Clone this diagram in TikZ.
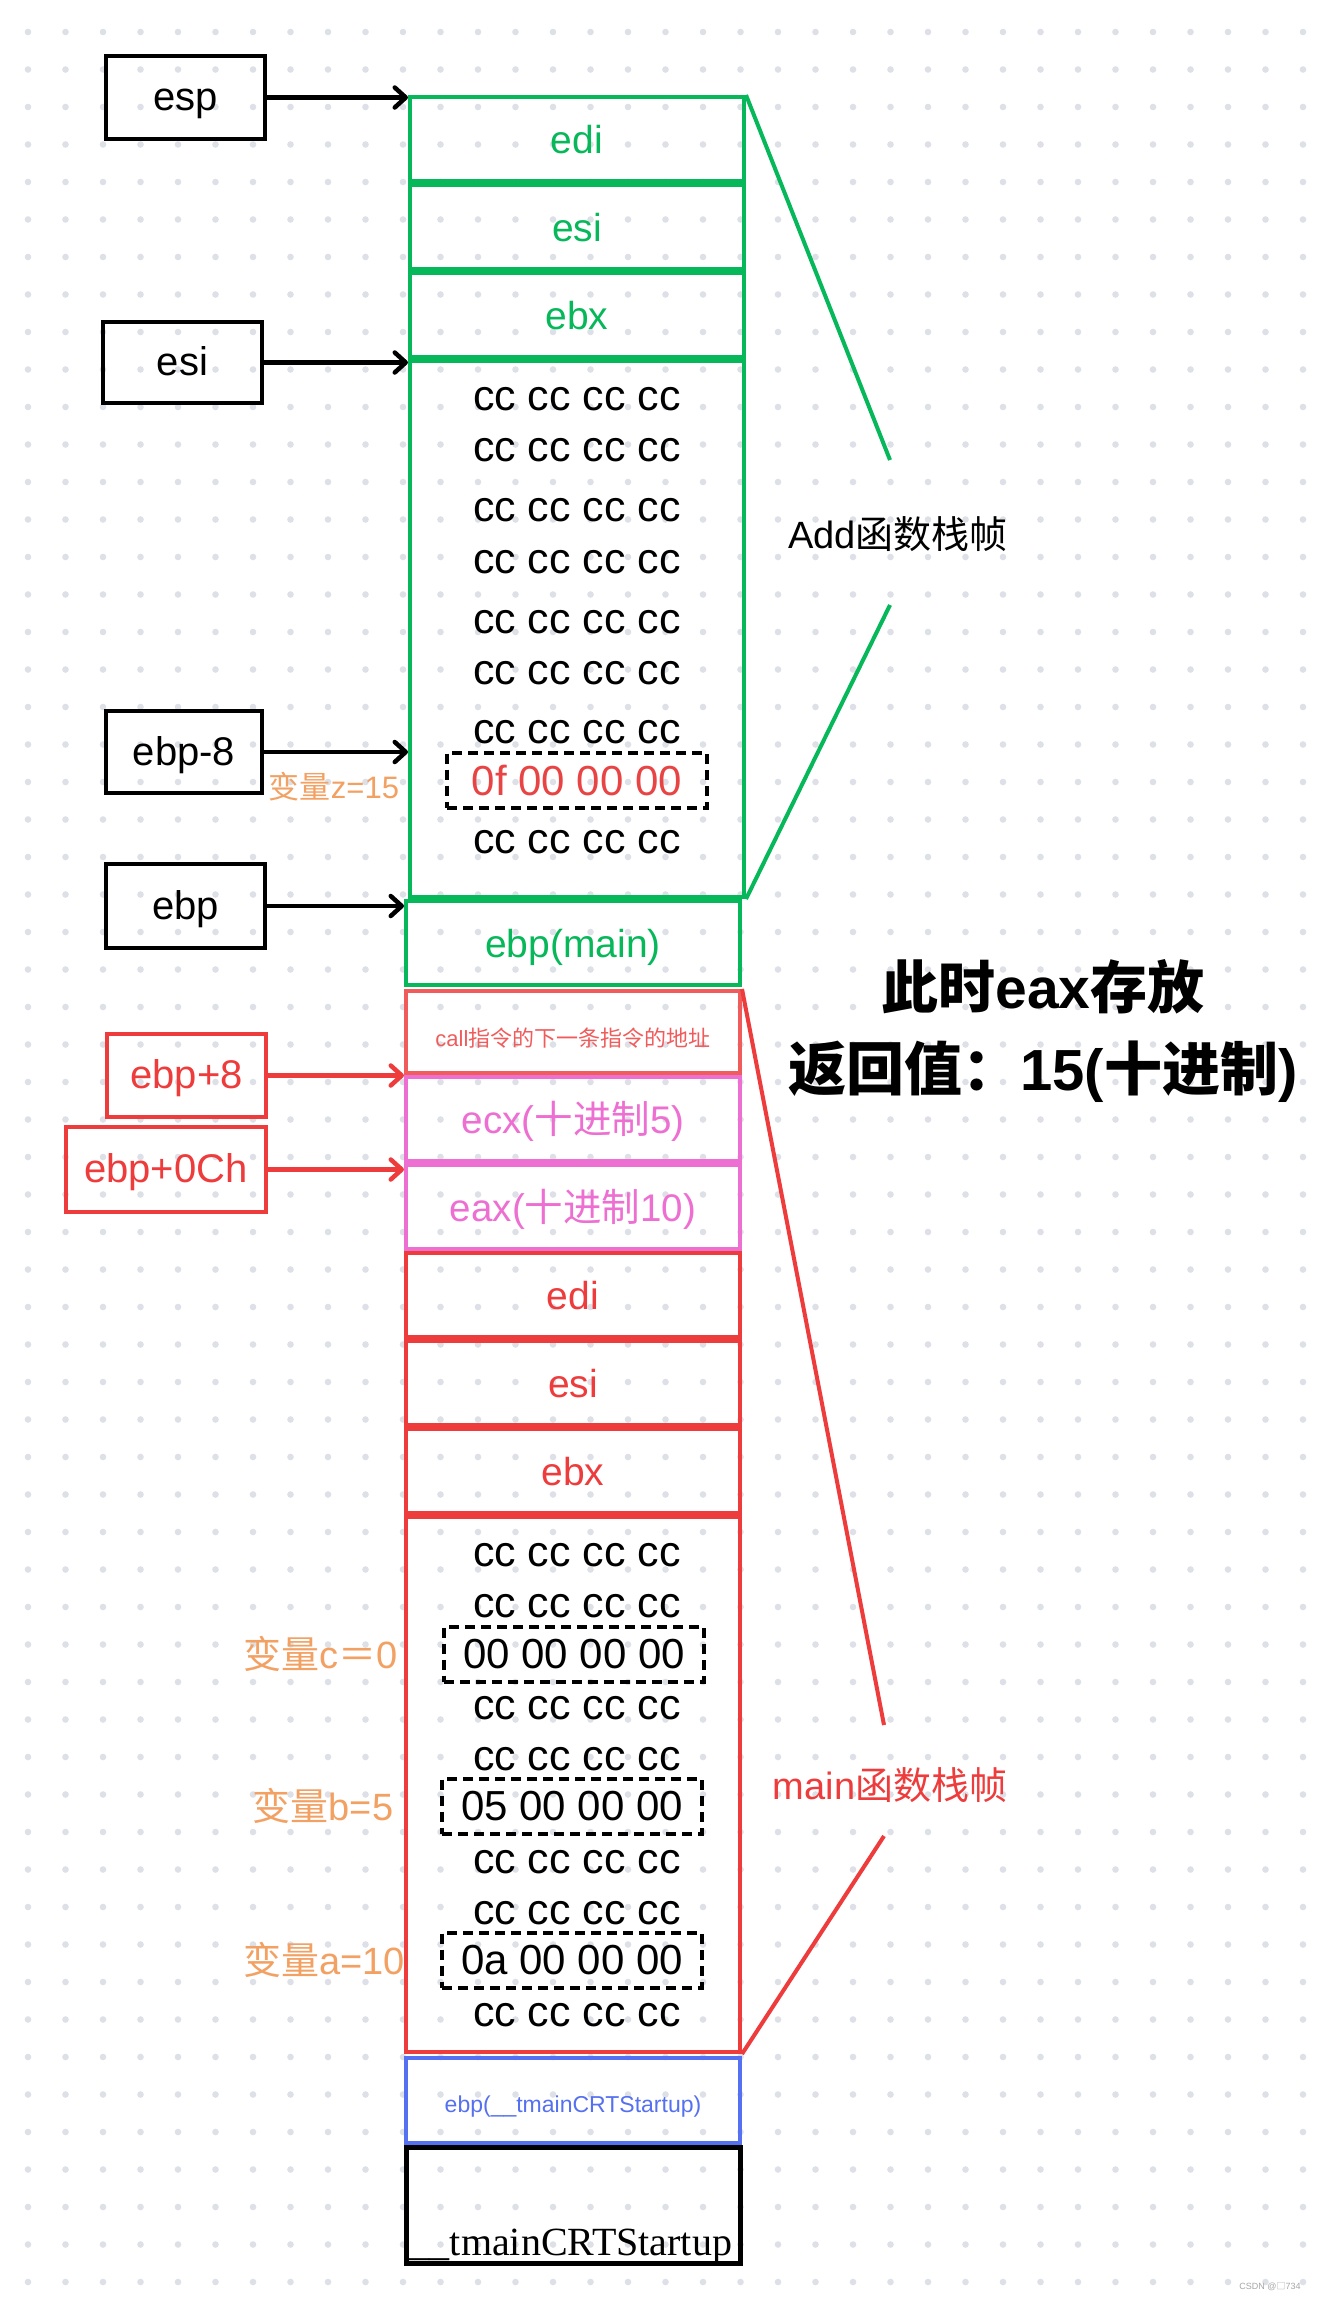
\documentclass[tikz,border=0pt]{standalone}
\usepackage{fontspec}
\setmainfont{Liberation Sans}
\newfontfamily\zhfont{Noto Sans CJK SC}
\newfontfamily\serifcrt{Liberation Serif}
\usetikzlibrary{arrows.meta,positioning,calc}
\definecolor{addgreen}{HTML}{07B85A}
\definecolor{mainred}{HTML}{EE3B3B}
\definecolor{retred}{HTML}{F05C5C}
\definecolor{hexred}{HTML}{E84444}
\definecolor{argpink}{HTML}{EE6FD2}
\definecolor{crtblue}{HTML}{5570F0}
\definecolor{varorange}{HTML}{F2A163}
\definecolor{dotgrey}{HTML}{DDE0E6}
\newcommand{\zh}[1]{{\zhfont #1}}
\newcommand{\fs}[1]{\fontsize{#1}{#1}\selectfont}
\tikzset{
  slot/.style={draw, line width=4pt, minimum width=334pt, inner sep=0pt, align=center,
               text height=38pt, text depth=10pt},
  gslot/.style={slot, draw=addgreen, text=addgreen, font=\fs{39}},
  rslot/.style={slot, draw=mainred, text=mainred, font=\fs{39}},
  pslot/.style={slot, draw=argpink, text=argpink, font=\fs{38.5}},
  bytes/.style={font=\fs{43}, inner sep=0pt},
  varbox/.style={draw=black, line width=4pt, dash pattern=on 10pt off 6pt,
                 minimum width=260pt, minimum height=55pt, inner sep=0pt, font=\fs{42}},
  varlbl/.style={text=varorange, font=\fs{38}, inner sep=0pt},
  ptrbox/.style={draw=black, line width=4.5pt, inner sep=0pt, font=\fs{40},
                 text height=36pt, text depth=10pt},
  ptr/.style={-{Straight Barb[length=11pt,width=20pt,round]}, line width=4.5pt},
  frameline/.style={line width=4pt}
}

\begin{document}
\begin{tikzpicture}[x=1pt,y=-1pt]
    \useasboundingbox (0,0) rectangle (1317,2300);
    \fill[white] (0,0) rectangle (1317,2300);
    % ===== dotted canvas =====
    \foreach \i in {0,...,34}
      \foreach \j in {0,...,60}
        \fill[dotgrey] (28+37.5*\i,32+37.5*\j) circle (3.3pt);

    % ===== Add frame (green) =====
    \node[gslot, minimum height=84pt] (gedi) at (577,139) {edi};
    \node[gslot, minimum height=84pt] (gesi) at (577,227) {esi};
    \node[gslot, minimum height=84pt] (gebx) at (577,315) {ebx};
    \node[gslot, minimum height=536pt] (gcc) at (577,629) {};
    \foreach \y [count=\i] in {399,450,510,562,622,673,732,842}
      \node[bytes] (gpad\i) at (577,\y) {cc cc cc cc};
    \node[varbox, text=hexred] (zslot) at (577,780) {0f 00 00 00};
    \node[gslot, minimum height=84pt] (gmain) at (573,943) {ebp(main)};

    % ===== main frame (red) =====
    \node[rslot, draw=retred, text=retred, font=\fs{22}, minimum height=82pt]
      (rcall) at (573,1032) {call\zh{指令的下一条指令的地址}};
    \node[pslot, minimum height=84pt] (pecx) at (573,1119) {ecx(\zh{十进制}5)};
    \node[pslot, minimum height=84pt] (peax) at (573,1207) {eax(\zh{十进制}10)};
    \node[rslot, minimum height=84pt] (redi) at (573,1295) {edi};
    \node[rslot, minimum height=84pt] (resi) at (573,1383) {esi};
    \node[rslot, minimum height=84pt] (rebx) at (573,1471) {ebx};
    \node[rslot, minimum height=535pt] (rcc) at (573,1784.5) {};
    \foreach \y [count=\i] in {1555,1606,1708,1759,1862,1913,2015}
      \node[bytes] (rpad\i) at (577,\y) {cc cc cc cc};
    \node[varbox] (cslot) at (574,1654) {00 00 00 00};
    \node[varbox] (bslot) at (572,1806) {05 00 00 00};
    \node[varbox] (aslot) at (572,1960) {0a 00 00 00};

    % ===== caller frame =====
    \node[slot, draw=crtblue, text=crtblue, font=\fs{23}, minimum height=85pt,
          text height=34pt] (bcrt) at (573,2100.5) {ebp(\_\_tmainCRTStartup)};
    \node[slot, draw=black, line width=5pt, minimum height=116pt] (kcrt) at (573,2205) {};
    \node[font=\serifcrt\fs{40}, anchor=base, inner sep=0pt] (crtname) at (571,2255)
      {\_\_tmainCRTStartup};

    % ===== pointer registers =====
    \node[ptrbox, minimum width=159pt, minimum height=83pt] (esp) at (185.5,97.5) {esp};
    \node[ptrbox, minimum width=159pt, minimum height=81pt] (esi) at (182.5,362.5) {esi};
    \node[ptrbox, minimum width=156pt, minimum height=82pt] (ebpm8) at (184,752) {ebp-8};
    \node[ptrbox, minimum width=159pt, minimum height=84pt] (ebp) at (185.5,906) {ebp};
    \node[ptrbox, draw=mainred, text=mainred, minimum width=159pt, minimum height=83pt]
      (ebpp8) at (186.5,1075.5) {ebp+8};
    \node[ptrbox, draw=mainred, text=mainred, minimum width=200pt, minimum height=85pt]
      (ebppc) at (166,1169.5) {ebp+0Ch};
    \draw[ptr] (esp) -- (esp -| gedi.west);
    \draw[ptr] (esi) -- (esi -| gebx.west);
    \draw[ptr] (ebpm8) -- (ebpm8 -| gcc.west);
    \draw[ptr] (ebp) -- (ebp -| gmain.west);
    \draw[ptr, draw=mainred] (ebpp8) -- (ebpp8 -| rcall.west);
    \draw[ptr, draw=mainred] (ebppc) -- (ebppc -| pecx.west);

    % ===== local variable names =====
    \node[varlbl, font=\fs{31}] (zname) at (334,787) {\zh{变量}z=15};
    \node[varlbl] (cname) at (321,1654) {\zh{变量}c\zh{＝}0};
    \node[varlbl] (bname) at (323,1806) {\zh{变量}b=5};
    \node[varlbl] (aname) at (324,1960) {\zh{变量}a=10};

    % ===== frame brackets =====
    \coordinate (addtop) at (890,460);
    \coordinate (addbot) at (890,605);
    \draw[frameline, addgreen] (gedi.north east) -- (addtop);
    \draw[frameline, addgreen] (addbot) -- (gcc.south east);
    \node[font=\fs{38}, inner sep=0pt] (addname) at (898,534) {Add\zh{函数栈帧}};
    \coordinate (maintop) at (884,1725);
    \coordinate (mainbot) at (884,1836);
    \draw[frameline, mainred] (rcall.north east) -- (maintop);
    \draw[frameline, mainred] (mainbot) -- (rcc.south east);
    \node[font=\fs{38}, text=mainred, inner sep=0pt] (mainname) at (890,1785) {main\zh{函数栈帧}};

    % ===== return value note =====
    \node[font=\fs{57}\bfseries, inner sep=0pt] (retnote) at (1043,987) {\zh{此时}eax\zh{存放}};
    \node[font=\fs{58}\bfseries, inner sep=0pt] (retval) at (1043,1072)
      {\zh{返回值：}15(\zh{十进制})};

    \node[text=gray!70, font=\fs{9}, inner sep=0pt] (mark) at (1270,2287) {CSDN @\zh{□}734};
\end{tikzpicture}
\end{document}
